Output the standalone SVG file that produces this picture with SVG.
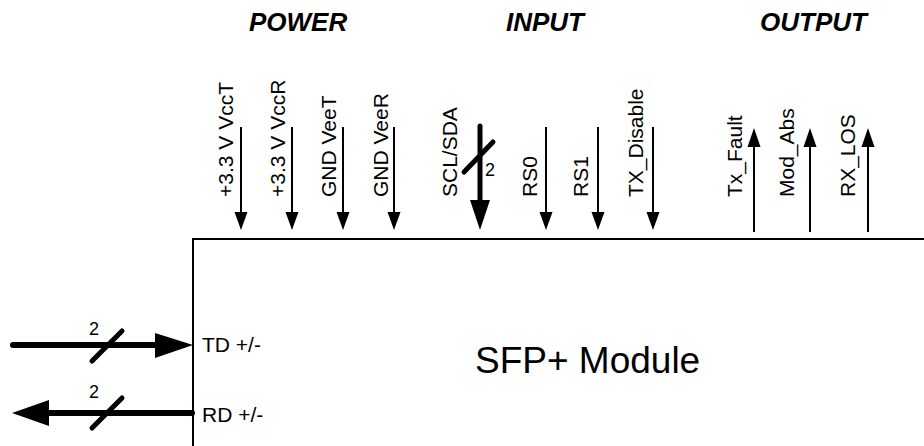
<svg xmlns="http://www.w3.org/2000/svg" width="924" height="446" viewBox="0 0 924 446">
<defs>
<style>
.hdr{font-family:"Liberation Sans",Arial,sans-serif;font-size:26px;font-weight:bold;font-style:italic;fill:#000}
.pin{font-family:"Liberation Sans",Arial,sans-serif;font-size:21px;fill:#000}
.num{font-family:"Liberation Sans",Arial,sans-serif;font-size:18px;fill:#000}
.title{font-family:"Liberation Sans",Arial,sans-serif;font-size:37px;fill:#000}
.thin{stroke:#000;stroke-width:2;fill:none}
.bus{stroke:#000;stroke-width:6;fill:none;stroke-linecap:round}
.slash{stroke:#000;stroke-width:5;fill:none;stroke-linecap:round}
.head{fill:#000;stroke:none}
</style>
</defs>
<text class="hdr" x="249" y="31">POWER</text>
<text class="hdr" x="506" y="31">INPUT</text>
<text class="hdr" x="760" y="31">OUTPUT</text>
<g id="module">
<rect x="193" y="239" width="760" height="240" fill="#fff" stroke="#000" stroke-width="2"/>
<text class="title" x="475" y="373">SFP+ Module</text>
<text class="pin" x="202" y="352">TD +/-</text>
<text class="pin" x="202" y="422">RD +/-</text>
</g>
<g id="labels">
<text class="pin" transform="translate(233,197) rotate(-90)">+3.3 V VccT</text>
<text class="pin" transform="translate(285,197) rotate(-90)">+3.3 V VccR</text>
<text class="pin" transform="translate(336,197) rotate(-90)">GND VeeT</text>
<text class="pin" transform="translate(388,197) rotate(-90)">GND VeeR</text>
<text class="pin" transform="translate(457,197) rotate(-90)">SCL/SDA</text>
<text class="pin" transform="translate(537,197) rotate(-90)">RS0</text>
<text class="pin" transform="translate(588,197) rotate(-90)">RS1</text>
<text class="pin" transform="translate(643,197) rotate(-90)">TX_Disable</text>
<text class="pin" transform="translate(742,197) rotate(-90)">Tx_Fault</text>
<text class="pin" transform="translate(794,197) rotate(-90)">Mod_Abs</text>
<text class="pin" transform="translate(855,197) rotate(-90)">RX_LOS</text>
</g>
<g id="connectors">
<line class="thin" x1="241" y1="127" x2="241" y2="214"/><polygon class="head" points="234.5,212 247.5,212 241,230"/>
<line class="thin" x1="292" y1="127" x2="292" y2="214"/><polygon class="head" points="285.5,212 298.5,212 292,230"/>
<line class="thin" x1="343" y1="127" x2="343" y2="214"/><polygon class="head" points="336.5,212 349.5,212 343,230"/>
<line class="thin" x1="394" y1="127" x2="394" y2="214"/><polygon class="head" points="387.5,212 400.5,212 394,230"/>
<line class="thin" x1="546" y1="127" x2="546" y2="214"/><polygon class="head" points="539.5,212 552.5,212 546,230"/>
<line class="thin" x1="598" y1="127" x2="598" y2="214"/><polygon class="head" points="591.5,212 604.5,212 598,230"/>
<line class="thin" x1="653" y1="127" x2="653" y2="214"/><polygon class="head" points="646.5,212 659.5,212 653,230"/>
<line class="slash" x1="480" y1="126" x2="480" y2="204"/>
<polygon class="head" points="470,200 490,200 480,230"/>
<line class="slash" x1="464" y1="172" x2="493" y2="142"/>
<text class="num" x="485" y="176">2</text>
<line class="thin" x1="754" y1="232" x2="754" y2="145"/><polygon class="head" points="747.5,147 760.5,147 754,128"/>
<line class="thin" x1="810" y1="232" x2="810" y2="145"/><polygon class="head" points="803.5,147 816.5,147 810,128"/>
<line class="thin" x1="868" y1="232" x2="868" y2="145"/><polygon class="head" points="861.5,147 874.5,147 868,128"/>
<line class="bus" x1="13" y1="345" x2="158" y2="345"/>
<polygon class="head" points="155,333 155,358 193,345"/>
<line class="slash" x1="92" y1="361" x2="122" y2="331"/>
<text class="num" x="89" y="335">2</text>
<line class="bus" x1="46" y1="413" x2="192" y2="413"/>
<line x1="185" y1="413" x2="193" y2="413" stroke="#000" stroke-width="6"/>
<polygon class="head" points="49,400 49,426 12,413"/>
<line class="slash" x1="92" y1="428" x2="122" y2="398"/>
<text class="num" x="89" y="398">2</text>
</g>
</svg>
